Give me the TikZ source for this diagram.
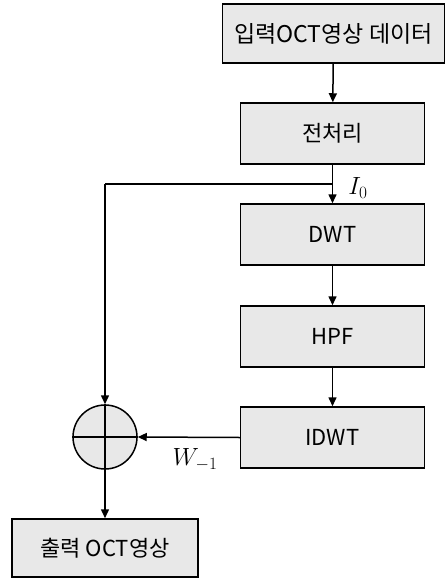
\documentclass[tikz,border=0pt]{standalone}
\usepackage{fontspec}
\newfontfamily\kofont{Noto Sans CJK KR}
\usetikzlibrary{arrows.meta,positioning}
\definecolor{boxGris}{RGB}{232,232,232}

\begin{document}
\begin{tikzpicture}[x=1pt,y=-1pt,
  blk/.style={rectangle,draw=black,line width=1.5pt,fill=boxGris,
              minimum width=184pt,minimum height=61pt,inner sep=0pt,
              font=\kofont\fontsize{22}{26}\selectfont},
  lbl/.style={font=\fontsize{25}{30}\selectfont},
  fl/.style={-{Triangle[length=9pt,width=8pt]},line width=1.5pt}]

  \useasboundingbox (0,0) rectangle (447,580);

  % Blocs
  \node[blk,minimum width=222pt,minimum height=59pt,font=\kofont\fontsize{23}{27}\selectfont] (in) at (333.5,33.5) {입력OCT영상 데이터};
  \node[blk] (pre)  at (332.5,133.5) {전처리};
  \node[blk] (dwt)  at (332.5,234.5) {DWT};
  \node[blk] (hpf)  at (332.5,336.5) {HPF};
  \node[blk] (idwt) at (332.5,437.5) {IDWT};
  \node[blk,minimum width=186pt,minimum height=58pt] (out) at (105,548) {출력 OCT영상};

  % Sommateur
  \node[circle,draw=black,line width=1.5pt,fill=boxGris,minimum size=64pt,inner sep=0pt] (sum) at (105,437) {};
  \draw[line width=1.5pt] (sum.north)--(sum.south) (sum.west)--(sum.east);

  \coordinate (br) at (332.5,184);
  \coordinate (bl) at (105,184);

  % Flèches
  \draw[fl] (in)--(pre);
  \draw[fl] (pre)--(dwt);
  \draw[fl] (dwt)--(hpf);
  \draw[fl] (hpf)--(idwt);
  \draw[line width=1.5pt] (br)--(bl);
  \draw[fl] (bl)--(sum.north);
  \draw[fl] (idwt.west)--(sum.east);
  \draw[fl] (sum.south)--(out);

  \node[lbl] (i0) at (358,188) {$I_0$};
  \node[lbl] (w1) at (195,460) {$W_{-1}$};
\end{tikzpicture}
\end{document}
